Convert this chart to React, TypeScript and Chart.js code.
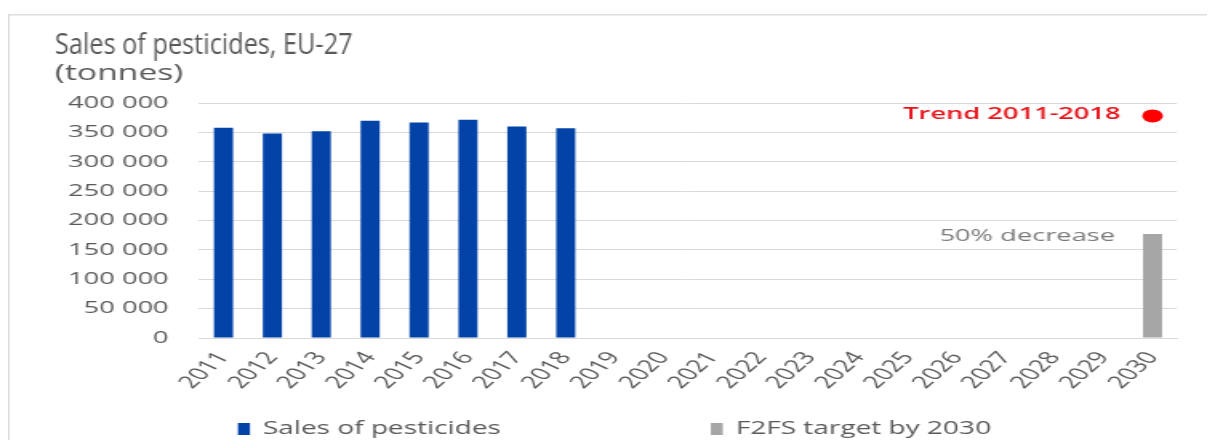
import React, { useEffect, useRef } from 'react';
import { Chart, registerables } from 'chart.js';

Chart.register(...registerables);

// ---------------- data ----------------
const years = [
  '2011', '2012', '2013', '2014', '2015', '2016', '2017', '2018', '2019', '2020',
  '2021', '2022', '2023', '2024', '2025', '2026', '2027', '2028', '2029', '2030',
];
const salesOfPesticides = [
  358000, 348000, 352000, 370000, 367000, 371500, 360000, 357000, null, null,
  null, null, null, null, null, null, null, null, null, null,
];
const f2fsTarget = [
  null, null, null, null, null, null, null, null, null, null,
  null, null, null, null, null, null, null, null, null, 177000,
];
const trendPoint = [
  null, null, null, null, null, null, null, null, null, null,
  null, null, null, null, null, null, null, null, null, 378000,
];
const yMin = 0;
const yMax = 400000;
const yStep = 50000;

const titleText = 'Sales of pesticides, EU-27';
const subtitleText = '(tonnes)';
const seriesLabels = ['Sales of pesticides', 'F2FS target by 2030', 'Trend 2011-2018'];
const trendLabel = 'Trend 2011-2018';
const targetLabel = '50% decrease';

// ---------------- layout / style ----------------
const CANVAS_W = 754;
const CSS_W = 1207;
const H = 432;
const SX = CSS_W / CANVAS_W; // horizontal stretch of the picture
const TITLE_K = 0.545;

const BLUE = '#0343a8';
const GREY_BAR = '#a6a6a6';
const TEXT = '#595959';
const GRID = '#d9d9d9';

const fmt = (v: number) => String(v).replace(/\B(?=(\d{3})+(?!\d))/g, ' ');

const decorPlugin = {
  id: 'decor',
  afterDraw(chart: any) {
    const ctx = chart.ctx as CanvasRenderingContext2D;
    ctx.save();
    // frame
    ctx.fillStyle = '#dedede';
    ctx.fillRect(0, 6, chart.width, 1.5);
    ctx.fillRect(0, 6, 1.6 / SX, chart.height);

    // title (less stretched)
    ctx.save();
    ctx.translate(47 / SX, 0);
    ctx.scale(TITLE_K, 1);
    ctx.fillStyle = TEXT;
    ctx.textAlign = 'left';
    ctx.textBaseline = 'alphabetic';
    ctx.font = "29px 'Open Sans'";
    ctx.fillText(titleText, 0, 46);
    ctx.restore();

    // subtitle
    ctx.fillStyle = TEXT;
    ctx.font = "21px 'Open Sans'";
    ctx.textAlign = 'left';
    ctx.textBaseline = 'alphabetic';
    ctx.fillText(subtitleText, 47 / SX, 72);

    // annotations
    const tMeta = chart.getDatasetMeta(2);
    const tp = tMeta && tMeta.data[tMeta.data.length - 1];
    if (tp) {
      ctx.font = "600 17px 'Open Sans'";
      ctx.fillStyle = '#e8141c';
      ctx.textAlign = 'right';
      ctx.textBaseline = 'middle';
      ctx.fillText(trendLabel, tp.x - 20, tp.y - 2);
    }
    const bMeta = chart.getDatasetMeta(1);
    const bp = bMeta && bMeta.data[bMeta.data.length - 1];
    if (bp) {
      ctx.font = "17px 'Open Sans'";
      ctx.fillStyle = '#7a7a7a';
      ctx.textAlign = 'right';
      ctx.textBaseline = 'middle';
      ctx.fillText(targetLabel, bp.x - 23.5, bp.y + 2);
    }

    // legend (two bar series)
    ctx.font = "17.5px 'Open Sans'";
    ctx.textAlign = 'left';
    ctx.textBaseline = 'middle';
    const items = [0, 1].map((i) => ({
      label: chart.data.datasets[i].label as string,
      color: chart.data.datasets[i].backgroundColor as string,
    }));
    const box = 12 / SX;
    const boxGap = 13 / SX;
    const itemGap = 210 / SX;
    const widths = items.map((it) => box + boxGap + ctx.measureText(it.label).width);
    const total = widths[0] + itemGap + widths[1];
    let x = chart.width / 2 - total / 2 + 3 / SX;
    const y = 421;
    items.forEach((it, i) => {
      ctx.fillStyle = it.color;
      ctx.fillRect(x, y - 6, box, 12);
      ctx.fillStyle = TEXT;
      ctx.fillText(it.label, x + box + boxGap, y);
      x += widths[i] + itemGap;
    });
    ctx.restore();
  },
};

export default function App() {
  const ref = useRef<HTMLCanvasElement | null>(null);

  useEffect(() => {
    if (!ref.current) return;
    Chart.defaults.font.family = "'Open Sans', sans-serif";
    Chart.defaults.color = TEXT;
    const plotLeft = (199 - 8) / SX;
    const plotRight = (1177 - 8) / SX;
    const chart = new Chart(ref.current, {
      type: 'bar',
      data: {
        labels: years,
        datasets: [
          {
            type: 'bar',
            label: seriesLabels[0],
            data: salesOfPesticides,
            backgroundColor: BLUE,
            grouped: false,
            barPercentage: 0.39,
            categoryPercentage: 1,
          } as any,
          {
            type: 'bar',
            label: seriesLabels[1],
            data: f2fsTarget,
            backgroundColor: GREY_BAR,
            grouped: false,
            barPercentage: 0.39,
            categoryPercentage: 1,
          } as any,
          {
            type: 'line',
            label: seriesLabels[2],
            data: trendPoint,
            showLine: false,
            pointRadius: 6.5,
            pointHoverRadius: 6.5,
            pointBorderWidth: 0,
            pointBackgroundColor: '#ff0000',
            borderColor: '#ff0000',
            backgroundColor: '#ff0000',
          } as any,
        ],
      },
      options: {
        responsive: false,
        devicePixelRatio: 1,
        animation: false,
        events: [],
        layout: {
          padding: { top: 95, right: CANVAS_W - plotRight, bottom: 42, left: 0 },
        },
        plugins: {
          legend: { display: false },
          tooltip: { enabled: false },
          title: { display: false },
        },
        scales: {
          x: {
            type: 'category',
            offset: true,
            grid: { display: false, drawTicks: false },
            border: { display: true, color: GRID, width: 1 },
            ticks: {
              color: TEXT,
              font: { size: 17.5 },
              minRotation: 54,
              maxRotation: 54,
              autoSkip: false,
              padding: 10,
            },
            afterFit: (s: any) => {
              s.height = 60;
            },
          },
          y: {
            min: yMin,
            max: yMax,
            grid: { color: GRID, drawTicks: false, lineWidth: 1 },
            border: { display: false },
            ticks: {
              stepSize: yStep,
              color: TEXT,
              font: { size: 17 },
              padding: 19,
              callback: (v: any) => fmt(Number(v)),
            },
            afterFit: (s: any) => {
              s.width = plotLeft;
            },
          },
        },
      },
      plugins: [decorPlugin],
    } as any);
    return () => chart.destroy();
  }, []);

  return (
    <div style={{ width: CSS_W, height: H }}>
      <canvas
        ref={ref}
        width={CANVAS_W}
        height={H}
        style={{ width: CSS_W + 'px', height: H + 'px', display: 'block' }}
      />
    </div>
  );
}
